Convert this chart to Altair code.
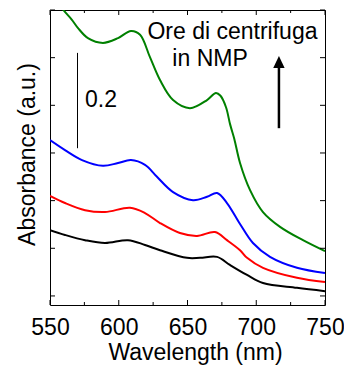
import altair as alt
import pandas as pd

FONT = "Liberation Sans"
FS = 23

# Series (wavelength nm, absorbance a.u.)
green_wl = [550, 559.7, 565.8, 570.4, 577.6, 588.5, 599.5, 608.9, 615.5, 622.7, 630, 639.5,
            651.8, 664.2, 670.7, 674, 678, 681, 684, 688.2, 695.5, 704.9, 717.3, 734, 750]
green_ab = [0.64, 0.600, 0.580, 0.562, 0.541, 0.531, 0.541, 0.556, 0.548, 0.501, 0.453, 0.411,
            0.394, 0.411, 0.426, 0.420, 0.396, 0.360, 0.330, 0.279, 0.222, 0.176, 0.145, 0.117, 0.094]

blue_wl = [550, 560.9, 573.3, 588.5, 599.5, 608.9, 619.1, 627.8, 639.5, 654, 664.2, 671.5,
           678.7, 688.2, 697.6, 710, 729.6, 750]
blue_ab = [0.327, 0.306, 0.285, 0.273, 0.279, 0.285, 0.275, 0.250, 0.218, 0.201, 0.208, 0.216,
           0.195, 0.151, 0.111, 0.082, 0.059, 0.048]

red_wl = [550, 560.9, 575.5, 590, 608.2, 619.1, 630, 644.5, 656.9, 670, 678.7, 688.2,
          693.3, 704.9, 729.6, 750]
red_ab = [0.210, 0.195, 0.180, 0.176, 0.185, 0.174, 0.153, 0.132, 0.126, 0.134, 0.117, 0.096,
          0.080, 0.059, 0.038, 0.029]

black_wl = [550, 560.9, 575.5, 590, 606.7, 619.1, 630, 649.6, 659.1, 671.5, 680.9, 693.3,
            704.9, 729.6, 750]
black_ab = [0.138, 0.128, 0.117, 0.111, 0.117, 0.107, 0.096, 0.080, 0.080, 0.082, 0.065, 0.044,
            0.027, 0.017, 0.010]

series_names = ["black", "red", "blue", "green"]
series_colors = ["#000000", "#ff0000", "#0000ff", "#008000"]

x_major = [550, 600, 650, 700, 750]
x_minor = [575, 625, 675, 725]
y_ticks = [0.0, 0.1, 0.2, 0.3, 0.4, 0.5, 0.6]

rows = []
for name, wl, ab in [("black", black_wl, black_ab), ("red", red_wl, red_ab),
                     ("blue", blue_wl, blue_ab), ("green", green_wl, green_ab)]:
    for i, (w, a) in enumerate(zip(wl, ab)):
        rows.append({"series": name, "wl": w, "ab": a, "order": i})
df = pd.DataFrame(rows)

xs = alt.Scale(domain=[550, 750], nice=False, zero=False)
ys = alt.Scale(domain=[-0.019, 0.6], nice=False, zero=False)

x_axis = alt.Axis(
    title="Wavelength (nm)", values=x_major, format="d", grid=False, domain=False,
    ticks=False, tickSize=0, labelPadding=11, labelFont=FONT, labelFontSize=FS,
    labelColor="black", labelFlush=False, labelOverlap=False,
    titleFont=FONT, titleFontSize=FS, titleFontWeight="normal", titleColor="black",
    titleY=36, titleX=145)
y_axis = alt.Axis(
    title="Absorbance (a.u.)", labels=False, grid=False, domain=False, ticks=False,
    tickSize=0, titleFont=FONT, titleFontSize=FS, titleFontWeight="normal",
    titleColor="black", titleAngle=270, titleBaseline="alphabetic",
    titleX=-16, titleY=144)


def X(field):
    return alt.X(field, scale=xs, axis=x_axis)


def Y(field):
    return alt.Y(field, scale=ys, axis=y_axis)


lines = alt.Chart(df).mark_line(clip=True, strokeWidth=2, interpolate="catmull-rom").encode(
    x=X("wl:Q"),
    y=Y("ab:Q"),
    color=alt.Color("series:N", scale=alt.Scale(domain=series_names, range=series_colors),
                    legend=None),
    detail="series:N",
    order="order:Q",
)

xt_major = pd.DataFrame({"wl": x_major})
xt_minor = pd.DataFrame({"wl": x_minor})
yt = pd.DataFrame({"ab": y_ticks})


def xtick(data, y0, y1):
    return alt.Chart(data).mark_rule(color="black", strokeWidth=1).encode(
        x=X("wl:Q"), y=alt.value(y0), y2=alt.value(y1))


def ytick(x0, x1):
    return alt.Chart(yt).mark_rule(color="black", strokeWidth=1).encode(
        y=Y("ab:Q"), x=alt.value(x0), x2=alt.value(x1))


ticks = [
    xtick(xt_major, 295, 290), xtick(xt_minor, 295, 292),
    xtick(xt_major, 0, 5), xtick(xt_minor, 0, 3),
    ytick(0, 5), ytick(275, 270),
]

# scale bar
bar_df = pd.DataFrame({"wl": [570], "ab": [0.31], "y1": [0.51]})
bar = alt.Chart(bar_df).mark_rule(color="black", strokeWidth=1).encode(
    x=X("wl:Q"), y=Y("ab:Q"), y2="y1:Q")

# arrow
arrow_df = pd.DataFrame({"wl": [716.5], "ab": [0.352], "y1": [0.482]})
shaft = alt.Chart(arrow_df).mark_rule(color="black", strokeWidth=2.5).encode(
    x=X("wl:Q"), y=Y("ab:Q"), y2="y1:Q")
head_df = pd.DataFrame({"wl": [716.5], "ab": [0.491]})
head = alt.Chart(head_df).mark_point(
    shape="M0,-1L0.95,1L-0.95,1Z", size=144, filled=True, color="black", opacity=1
).encode(x=X("wl:Q"), y=Y("ab:Q"))

# texts
text_wl = [682.7, 666.4, 575.5]
text_ab = [0.539, 0.4835, 0.396]
text_labels = ["Ore di centrifuga", "in NMP", "0.2"]
text_df = pd.DataFrame({"wl": text_wl, "ab": text_ab, "label": text_labels})
txt_center = alt.Chart(text_df.iloc[:2]).mark_text(
    font=FONT, fontSize=FS, color="black", align="center", baseline="alphabetic"
).encode(x=X("wl:Q"), y=Y("ab:Q"), text="label:N")
txt_left = alt.Chart(text_df.iloc[2:]).mark_text(
    font=FONT, fontSize=FS, color="black", align="left", baseline="alphabetic"
).encode(x=X("wl:Q"), y=Y("ab:Q"), text="label:N")

chart = alt.layer(lines, *ticks, bar, shaft, head, txt_center, txt_left).properties(
    width=275, height=295,
    padding={"left": 50, "top": 10, "right": 19, "bottom": 60},
    autosize=alt.AutoSizeParams(type="none"),
    background="white",
).configure_view(stroke="black", strokeWidth=1)

chart.save("out.html", embed_options={"renderer": "svg", "actions": False})
